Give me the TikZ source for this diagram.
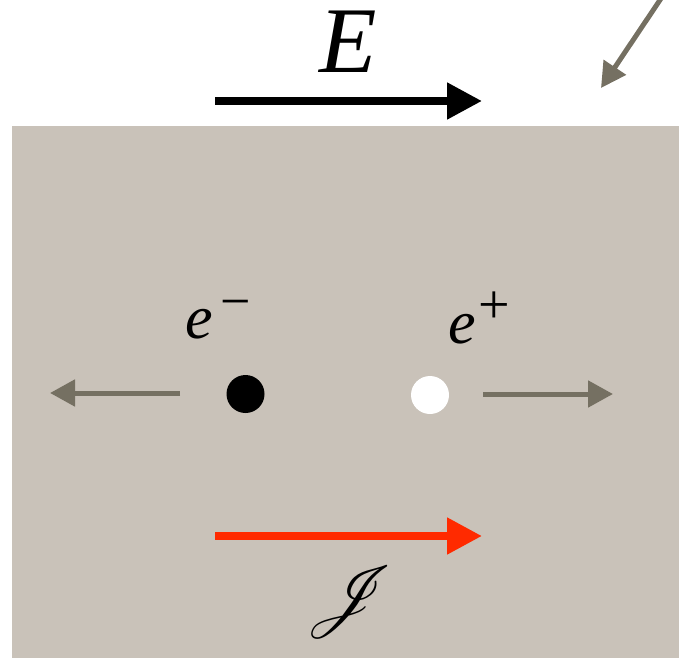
\documentclass[tikz,border=0pt]{standalone}
\usepackage{fontspec}
\setmainfont{Liberation Serif}
\usepackage{mathrsfs}
\usepackage{graphicx}
\usetikzlibrary{arrows.meta}
\definecolor{bg}{HTML}{C9C2B9}
\definecolor{arrgrey}{HTML}{757062}
\definecolor{jred}{HTML}{FF2A00}
\tikzset{
  bigarrow/.style={line width=8pt, -{Triangle[length=35pt,width=35pt]}},
  smallarrow/.style={arrgrey, line width=5pt, -{Triangle[length=25pt,width=26pt]}},
  lbl/.style={inner sep=0pt},
  particle/.style={circle, inner sep=0pt, minimum size=38pt},
}
\begin{document}
\begin{tikzpicture}[x=1pt,y=-1pt]
\path[use as bounding box] (0,0) rectangle (679,658);
\fill[bg] (12,126) rectangle (679,658);
\begin{scope}
  \clip (0,0) rectangle (679,658);
  \coordinate (p0) at (664,-6);
  \coordinate (p1) at (601,88);
  \draw[smallarrow] (p0) -- (p1);
\end{scope}
% E field
\coordinate (E0) at (215,101);
\coordinate (E1) at (482,101);
\draw[bigarrow, black] (E0) -- (E1);
\node[lbl, anchor=base] (Elbl) at (348,73) {\fontsize{94}{94}\selectfont\textit{E}};
% particles
\node[particle, fill=black] (em) at (245.5,394) {};
\node[particle, fill=white] (ep) at (430,395) {};
\node[lbl, anchor=base west] (emlbl) at (185,338)
  {\fontsize{62}{62}\selectfont\textit{e}\hspace{8pt}\raisebox{19pt}{\fontsize{54}{54}\selectfont −}};
\node[lbl, anchor=base west] (eplbl) at (448,343)
  {\fontsize{62}{62}\selectfont\textit{e}\hspace{3pt}\raisebox{20pt}{\fontsize{56}{56}\selectfont +}};
\coordinate (l0) at (180,393);
\coordinate (l1) at (50,393);
\draw[smallarrow] (l0) -- (l1);
\coordinate (r0) at (483,394);
\coordinate (r1) at (613,394);
\draw[smallarrow] (r0) -- (r1);
% current
\coordinate (J0) at (215,536);
\coordinate (J1) at (482,536);
\draw[bigarrow, jred] (J0) -- (J1);
\node[lbl] (Jlbl) at (350,602) {\scalebox{7.3}{$\mathscr{J}$}};
\end{tikzpicture}
\end{document}
